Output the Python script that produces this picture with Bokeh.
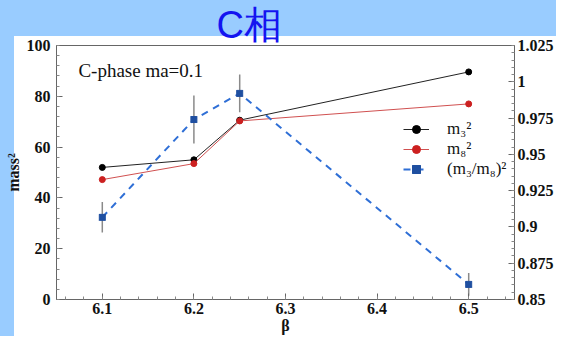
from bokeh.plotting import figure
from bokeh.models import Range1d, LinearAxis, Label, Legend, LegendItem, FixedTicker
from bokeh.embed import file_html
from bokeh.resources import INLINE

# ---- data ----
beta = [6.1, 6.2, 6.25, 6.5]
m3_sq = [52.0, 55.0, 70.6, 89.6]
m8_sq = [47.2, 53.5, 70.3, 77.0]
ratio_sq = [0.9066, 0.974, 0.992, 0.8604]
ratio_err = [0.0105, 0.0165, 0.013, 0.0078]

right_ticks = [0.85, 0.875, 0.9, 0.925, 0.95, 0.975, 1.0, 1.025]
right_tick_labels = ["0.85", "0.875", "0.9", "0.925", "0.95", "0.975", "1", "1.025"]
right_minor = [0.85 + 0.005 * i for i in range(36)]

title_text = "C相"
note_text = "C-phase ma=0.1"
x_label = "β"
y_label = "mass²"
legend_labels = ["m₃²", "m₈²", "(m₃/m₈)²"]

SERIF = "Liberation Serif"

p = figure(width=556, height=336,
           x_range=Range1d(6.05, 6.55), y_range=Range1d(0, 100),
           output_backend="svg", toolbar_location=None,
           min_border_left=56, min_border_right=39,
           min_border_top=45, min_border_bottom=36,
           border_fill_alpha=0, background_fill_color="white",
           outline_line_color="#666666", outline_line_width=1)
p.styles = {"background": "linear-gradient(#ffffff, #ffffff) 14px 36px / 100% 100% no-repeat, #99ccff"}
p.grid.visible = False

p.title.text = title_text
p.title.text_font = "Liberation Sans"
p.title.text_font_size = "38px"
p.title.text_font_style = "normal"
p.title.text_color = "#1414f0"
p.title.align = "left"
p.title.offset = 160
p.title.standoff = 0

p.extra_y_ranges = {"r": Range1d(0.85, 1.025)}
raxis = LinearAxis(y_range_name="r",
                   ticker=FixedTicker(ticks=right_ticks, minor_ticks=right_minor))
raxis.major_label_overrides = dict(zip(right_ticks, right_tick_labels))
p.add_layout(raxis, "right")

for ax in [p.xaxis[0], p.yaxis[0], raxis]:
    ax.axis_line_color = "#666666"
    ax.major_tick_line_color = "#666666"
    ax.minor_tick_line_color = "#888888"
    ax.major_tick_in = 6
    ax.major_tick_out = 0
    ax.minor_tick_in = 3
    ax.minor_tick_out = 0
    ax.major_label_text_font = SERIF
    ax.major_label_text_font_style = "bold"
    ax.major_label_text_font_size = "16px"
    ax.major_label_text_color = "#111111"

p.xaxis[0].ticker.desired_num_ticks = 5
p.xaxis[0].ticker.num_minor_ticks = 5
p.xaxis[0].major_label_standoff = 3
p.xaxis[0].axis_label = x_label
p.xaxis[0].axis_label_standoff = 0
p.yaxis[0].ticker.num_minor_ticks = 5
p.yaxis[0].major_label_standoff = 6
p.yaxis[0].axis_label = y_label
p.yaxis[0].axis_label_standoff = 2
raxis.major_label_standoff = 3

for ax in [p.xaxis[0], p.yaxis[0]]:
    ax.axis_label_text_font = SERIF
    ax.axis_label_text_font_style = "bold"
    ax.axis_label_text_font_size = "16px"
    ax.axis_label_text_color = "#111111"

# ---- glyphs ----
lo = [r - e for r, e in zip(ratio_sq, ratio_err)]
hi = [r + e for r, e in zip(ratio_sq, ratio_err)]
p.segment(x0=beta, y0=lo, x1=beta, y1=hi, line_color="#8a8a8a", line_width=1.5, y_range_name="r")

l3 = p.line(beta, m3_sq, line_color="#222222", line_width=1)
s3 = p.scatter(beta, m3_sq, marker="circle", size=6, fill_color="black", line_color="black")
l8 = p.line(beta, m8_sq, line_color="#d05050", line_width=1)
s8 = p.scatter(beta, m8_sq, marker="circle", size=6, fill_color="#cc2020", line_color="#cc2020")
lr = p.line(beta, ratio_sq, line_color="#2f6fd6", line_width=2, line_dash="7 6", y_range_name="r")
sr = p.scatter(beta, ratio_sq, marker="square_x", size=6, fill_color="#1f4fa0", line_color="#1f4fa0",
               y_range_name="r")

legend = Legend(items=[
    LegendItem(label=legend_labels[0], renderers=[l3, s3]),
    LegendItem(label=legend_labels[1], renderers=[l8, s8]),
    LegendItem(label=legend_labels[2], renderers=[lr, sr]),
], location=(347, 120))
legend.label_text_font = SERIF
legend.label_text_font_size = "17px"
legend.label_text_color = "#111111"
legend.label_height = 20
legend.glyph_height = 20
legend.glyph_width = 26
legend.spacing = 0
legend.padding = 0
legend.margin = 0
legend.label_standoff = 18
legend.border_line_alpha = 0
legend.background_fill_alpha = 0
p.add_layout(legend, "center")

# ---- note ----
p.add_layout(Label(x=6.0739, y=90.2, text=note_text, text_font=SERIF, text_font_size="19px",
                   text_baseline="middle", text_align="left", text_color="#111111"))

open("out.html", "w").write(file_html(p, INLINE))
